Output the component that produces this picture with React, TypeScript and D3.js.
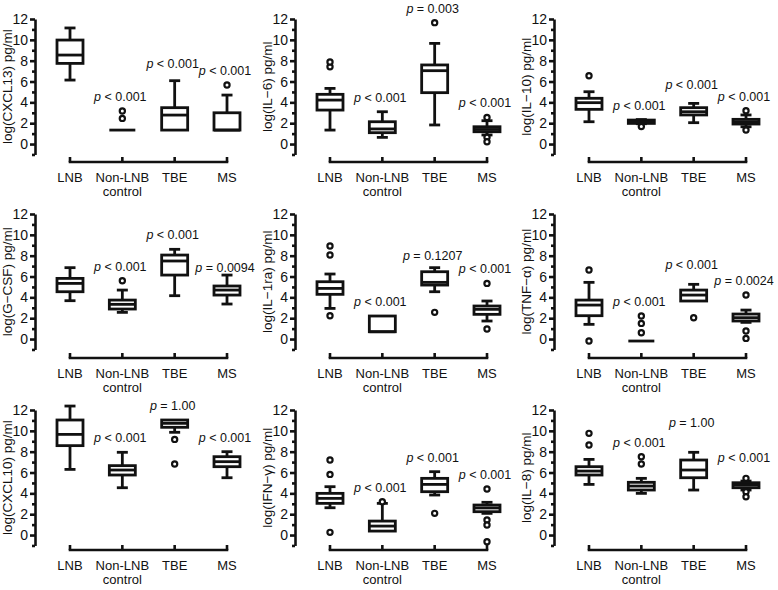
import { useEffect, useRef } from "react";
import * as d3 from "d3";

const categories = ["LNB", "Non-LNB\ncontrol", "TBE", "MS"];
const yMajorTicks = [0, 2, 4, 6, 8, 10, 12];
const yMinorTicks = [-1, 1, 3, 5, 7, 9, 11];

// each box: [lower whisker, q1, median, q3, upper whisker]
const cxcl13Box = [[6.14, 7.74, 8.54, 9.98, 11.14], [1.34, 1.34, 1.34, 1.34, 1.34], [1.34, 1.34, 2.78, 3.49, 6.08], [1.34, 1.34, 1.34, 3.0, 4.7]];
const cxcl13Out = [[], [2.46, 3.17], [], [5.66]];
const cxcl13P = [null, "< 0.001", "< 0.001", "< 0.001"];

const il6Box = [[1.34, 3.26, 4.22, 4.77, 5.34], [0.64, 1.09, 1.45, 2.14, 3.1], [1.83, 4.93, 7.04, 7.59, 9.66], [0.87, 1.18, 1.4, 1.66, 2.24]];
const il6Out = [[7.42, 7.87], [], [11.65], [2.55, 0.65, 0.22]];
const il6P = [null, "< 0.001", "= 0.003", "< 0.001"];

const il10Box = [[2.14, 3.33, 3.97, 4.39, 5.02], [1.95, 1.98, 2.12, 2.3, 2.35], [2.05, 2.79, 3.1, 3.49, 3.9], [1.66, 1.92, 2.14, 2.37, 2.79]];
const il10Out = [[6.56], [1.68], [], [3.2, 1.35]];
const il10P = [null, "< 0.001", "< 0.001", "< 0.001"];

const gcsfBox = [[3.68, 4.54, 5.34, 5.82, 6.85], [2.56, 2.88, 3.33, 3.74, 4.7], [4.16, 6.14, 7.49, 8.06, 8.61], [3.36, 4.22, 4.7, 5.09, 6.14]];
const gcsfOut = [[], [5.6], [], []];
const gcsfP = [null, "< 0.001", "< 0.001", "= 0.0094"];

const il1raBox = [[2.94, 4.29, 4.86, 5.5, 6.24], [0.7, 0.7, 0.7, 2.21, 2.21], [4.54, 5.18, 5.44, 6.46, 6.85], [1.73, 2.37, 2.85, 3.17, 3.65]];
const il1raOut = [[8.93, 8.06, 2.24], [], [2.56], [5.34, 0.96]];
const il1raP = [null, "< 0.001", "= 0.1207", "< 0.001"];

const tnfBox = [[1.41, 2.24, 3.26, 3.74, 5.44], [-0.19, -0.19, -0.19, -0.19, -0.19], [3.65, 3.65, 4.22, 4.7, 5.25], [1.6, 1.73, 2.05, 2.4, 2.78]];
const tnfOut = [[6.62, -0.19], [2.21, 1.5, 0.61], [2.05], [4.22, 0.77, 0.06]];
const tnfP = [null, "< 0.001", "< 0.001", "= 0.0024"];

const cxcl10Box = [[6.3, 8.58, 9.66, 11.04, 12.38], [4.54, 5.76, 6.24, 6.66, 7.94], [9.86, 10.34, 10.72, 11.04, 11.04], [5.5, 6.56, 7.04, 7.52, 8.0]];
const cxcl10Out = [[], [], [9.18, 6.82], []];
const cxcl10P = [null, "< 0.001", "= 1.00", "< 0.001"];

const ifnBox = [[2.62, 3.04, 3.52, 4.0, 4.64], [0.38, 0.38, 0.86, 1.34, 3.04], [3.84, 4.16, 4.86, 5.44, 6.08], [2.08, 2.24, 2.6, 2.88, 3.14]];
const ifnOut = [[7.2, 5.82, 0.26], [3.2], [2.08], [4.42, 1.44, 0.96, -0.64]];
const ifnP = [null, "< 0.001", "< 0.001", "< 0.001"];

const il8Box = [[4.86, 5.76, 6.14, 6.56, 7.26], [4.0, 4.32, 4.7, 5.06, 5.44], [4.32, 5.5, 6.24, 7.2, 7.94], [4.32, 4.54, 4.8, 5.02, 5.18]];
const il8Out = [[9.76, 8.64], [7.52, 6.82], [], [5.44, 4.16, 3.68]];
const il8P = [null, "< 0.001", "= 1.00", "< 0.001"];

const panels = [
  { title: "log(CXCL13) pg/ml", box: cxcl13Box, out: cxcl13Out, p: cxcl13P },
  { title: "log(IL\u22126) pg/ml", box: il6Box, out: il6Out, p: il6P },
  { title: "log(IL\u221210) pg/ml", box: il10Box, out: il10Out, p: il10P },
  { title: "log(G\u2212CSF) pg/ml", box: gcsfBox, out: gcsfOut, p: gcsfP },
  { title: "log(IL\u22121ra) pg/ml", box: il1raBox, out: il1raOut, p: il1raP },
  { title: "log(TNF\u2212\u03b1) pg/ml", box: tnfBox, out: tnfOut, p: tnfP },
  { title: "log(CXCL10) pg/ml", box: cxcl10Box, out: cxcl10Out, p: cxcl10P },
  { title: "log(IFN\u2212\u03b3) pg/ml", box: ifnBox, out: ifnOut, p: ifnP },
  { title: "log(IL\u22128) pg/ml", box: il8Box, out: il8Out, p: il8P },
];

// layout
const COL_X = [35, 295, 554];
const ROW_Y = [19, 214, 410];
const AXIS_OFF = [143, 144, 140]; // x-axis line below the "12" tick, per row
const UNIT = 10.42;
const FONT = "'Liberation Sans', Arial, sans-serif";
const INK = "#111";
// extra lift (px) for a few p labels, keyed "panel-group"
const pNudge: Record<string, number> = { "0-2": 3, "2-2": 4, "3-3": -7, "4-2": -2, "5-2": 5, "8-2": 15, "8-3": 6 };

export default function App() {
  const svgRef = useRef<SVGSVGElement>(null);

  useEffect(() => {
    document.body.style.margin = "0";
    if (!svgRef.current) return;
    const svg = d3.select(svgRef.current);
    svg.selectAll("*").remove();

    panels.forEach((panel, pi) => {
      const ax = COL_X[pi % 3];
      const row = Math.floor(pi / 3);
      const top = ROW_Y[row];
      const y = d3.scaleLinear().domain([-1, 12]).range([top + 13 * UNIT, top]);
      const x = d3.scalePoint<string>().domain(categories).range([ax + 35, ax + 192]);
      const g = svg.append("g");

      // y axis
      const major = g.append("g").attr("transform", `translate(${ax},0)`)
        .call(d3.axisLeft(y).tickValues(yMajorTicks).tickSize(5).tickSizeOuter(0).tickPadding(2));
      const minor = g.append("g").attr("transform", `translate(${ax},0)`)
        .call(d3.axisLeft(y).tickValues(yMinorTicks).tickSize(3).tickSizeOuter(0).tickFormat(() => ""));
      minor.select(".domain").remove();
      [major, minor].forEach((a) => {
        a.selectAll(".domain, line").attr("stroke", INK).attr("stroke-width", 2.6);
        a.selectAll("text").attr("fill", INK).attr("font-size", 14).attr("font-family", FONT);
      });

      g.append("text")
        .attr("transform", `translate(${ax - 27},${y(5.5)}) rotate(-90)`)
        .attr("text-anchor", "middle")
        .attr("dominant-baseline", "middle")
        .attr("font-family", FONT).attr("font-size", 13.5).attr("fill", INK)
        .text(panel.title);

      // x axis bracket
      const axisY = top + AXIS_OFF[row];
      g.append("line")
        .attr("x1", x(categories[0])!).attr("x2", x(categories[3])!)
        .attr("y1", axisY).attr("y2", axisY)
        .attr("stroke", INK).attr("stroke-width", 2.6).attr("stroke-linecap", "square");
      categories.forEach((c) => {
        const cx = x(c)!;
        g.append("line").attr("x1", cx).attr("x2", cx).attr("y1", axisY).attr("y2", axisY - 5)
          .attr("stroke", INK).attr("stroke-width", 2.6);
        const t = g.append("text").attr("x", cx).attr("y", axisY + 20)
          .attr("text-anchor", "middle").attr("font-family", FONT).attr("font-size", 13).attr("fill", INK);
        c.split("\n").forEach((line, li) => {
          t.append("tspan").attr("x", cx).attr("dy", li === 0 ? 0 : 14).text(line);
        });
      });

      // boxes
      panel.box.forEach((s, i) => {
        const cx = x(categories[i])!;
        const [lo, q1, med, q3, hi] = s;
        const bw = 13, cw = 5.5;
        const b = g.append("g").attr("stroke", INK).attr("stroke-width", 2.8).attr("fill", "none");
        if (hi > q3) {
          b.append("line").attr("x1", cx).attr("x2", cx).attr("y1", y(q3)).attr("y2", y(hi));
          b.append("line").attr("x1", cx - cw).attr("x2", cx + cw).attr("y1", y(hi)).attr("y2", y(hi));
        }
        if (lo < q1) {
          b.append("line").attr("x1", cx).attr("x2", cx).attr("y1", y(q1)).attr("y2", y(lo));
          b.append("line").attr("x1", cx - cw).attr("x2", cx + cw).attr("y1", y(lo)).attr("y2", y(lo));
        }
        b.append("rect").attr("x", cx - bw).attr("y", y(q3)).attr("width", 2 * bw)
          .attr("height", Math.max(y(q1) - y(q3), 0)).attr("fill", "#fff");
        b.append("line").attr("x1", cx - bw).attr("x2", cx + bw).attr("y1", y(med)).attr("y2", y(med));
        panel.out[i].forEach((o) => {
          b.append("circle").attr("cx", cx).attr("cy", y(o)).attr("r", 2.6)
            .attr("fill", "#fff").attr("stroke-width", 2.2);
        });

        const label = panel.p[i];
        if (label) {
          const topVal = Math.max(hi, ...panel.out[i]);
          const ly = y(topVal) - 10 - (pNudge[`${pi}-${i}`] || 0);
          const t = g.append("text").attr("x", cx - 2).attr("y", ly)
            .attr("text-anchor", "middle").attr("font-family", FONT).attr("font-size", 12.5).attr("fill", INK);
          t.append("tspan").attr("font-style", "italic").text("p");
          t.append("tspan").text(" " + label);
        }
      });
    });
  }, []);

  return (
    <svg ref={svgRef} width={778} height={590}
      style={{ position: "absolute", left: 0, top: 0, background: "#fff" }} />
  );
}
